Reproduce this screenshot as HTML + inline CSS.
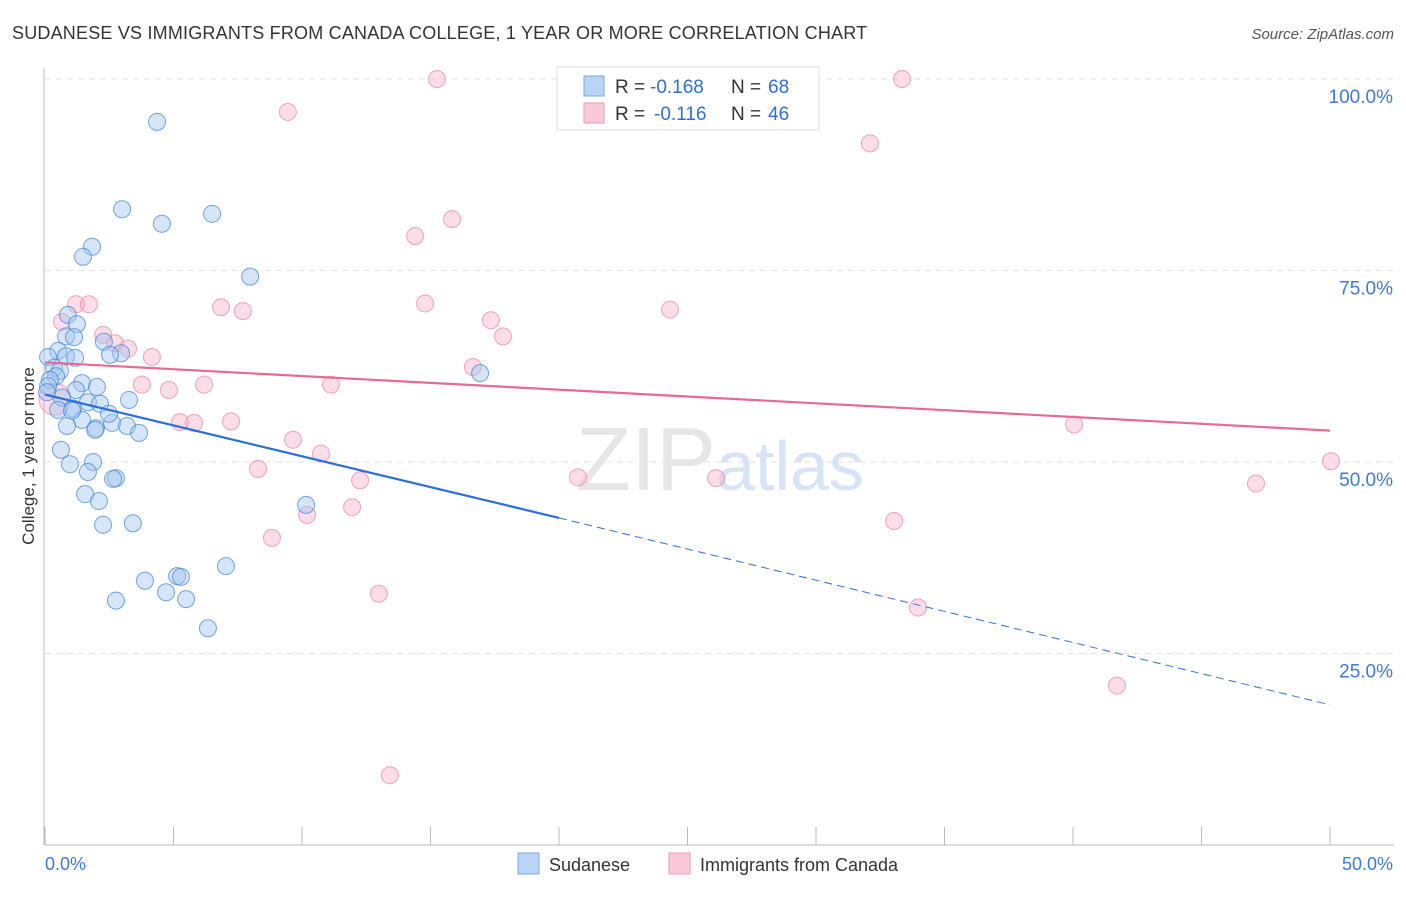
<!DOCTYPE html>
<html><head><meta charset="utf-8"><style>
body{margin:0;background:#fff;font-family:"Liberation Sans",sans-serif}
text{font-family:"Liberation Sans",sans-serif}
</style></head><body>
<svg width="1406" height="892">
<text x="12" y="39" font-size="18" letter-spacing="0.2" fill="#333">SUDANESE VS IMMIGRANTS FROM CANADA COLLEGE, 1 YEAR OR MORE CORRELATION CHART</text>
<text x="1394" y="39" font-size="15" fill="#555" font-style="italic" text-anchor="end">Source: ZipAtlas.com</text>
<g id="grid"></g>
<text x="720" y="490" font-size="90" fill="#e6e6e6" text-anchor="middle" font-family="Liberation Serif">ZIP<tspan fill="#d6e4f5" font-family="Liberation Sans" font-size="70">atlas</tspan></text>
<g id="marks"></g>
<text transform="translate(34,456) rotate(-90)" font-size="17" fill="#333" text-anchor="middle">College, 1 year or more</text>
<g>
<rect x="557" y="67" width="262" height="63" fill="#fff" stroke="#ddd"/>
<rect x="584" y="76" width="20" height="20" fill="#b9d4f5" stroke="#7aa8e6"/>
<rect x="584" y="103" width="20" height="20" fill="#f9c9d8" stroke="#ee9ab5"/>
<text x="615" y="93" font-size="19" fill="#333">R =</text>
<text x="650" y="93" font-size="19" fill="#2f6fd6">-0.168</text>
<text x="731" y="93" font-size="19" fill="#333">N =</text>
<text x="768" y="93" font-size="19" fill="#2f6fd6">68</text>
<text x="615" y="120" font-size="19" fill="#333">R =</text>
<text x="654" y="120" font-size="19" fill="#2f6fd6">-0.116</text>
<text x="731" y="120" font-size="19" fill="#333">N =</text>
<text x="768" y="120" font-size="19" fill="#2f6fd6">46</text>
</g>
<g>
<rect x="518" y="853" width="21" height="21" fill="#b9d4f5" stroke="#7aa8e6"/>
<text x="549" y="871" font-size="18" fill="#333">Sudanese</text>
<rect x="669" y="853" width="21" height="21" fill="#f9c9d8" stroke="#ee9ab5"/>
<text x="700" y="871" font-size="18" fill="#333">Immigrants from Canada</text>
</g>
</svg>
<script>
const yTicks=[100,75,50,25];
const xTickLabels=["0.0%","50.0%"];
const blueX=[4.36,3,4.55,6.5,1.83,1.48,7.98,0.89,1.24,0.82,1.13,2.29,2.96,2.53,0.51,0.82,1.17,0.12,0.35,0.58,0.43,0.19,0.12,1.44,2.02,1.21,0.66,1.67,1.09,2.14,3.27,1.44,0.86,2.61,1.98,1.95,3.19,3.66,0.62,1.87,0.97,1.67,2.76,2.65,1.56,2.1,3.42,2.26,10.16,16.93,7.04,5.14,5.29,3.89,4.71,5.49,2.76,6.34,0.08,0.51,1.05,2.49];
const blueY=[94.4,83.0,81.1,82.4,78.1,76.8,74.2,69.2,68.0,66.4,66.3,65.7,64.2,64.0,64.5,63.8,63.6,63.7,62.3,61.9,61.2,60.7,59.9,60.3,59.8,59.4,58.4,57.8,57.0,57.6,58.1,55.5,54.7,55.1,54.4,54.2,54.7,53.8,51.6,50.0,49.7,48.7,47.9,47.8,45.8,44.9,42.0,41.8,44.4,61.6,36.4,35.1,35.0,34.5,33.0,32.1,31.9,28.3,59.1,56.8,56.7,56.3];
const pinkX=[15.25,33.35,9.45,32.1,15.84,14.4,1.21,1.71,6.85,7.7,14.79,24.32,17.35,17.82,0.66,2.26,2.72,3.23,4.16,16.65,3.77,4.82,6.19,11.13,5.25,5.8,7.24,40.04,9.65,10.74,8.29,20.74,26.11,50.04,47.12,12.26,11.95,10.2,33.04,8.83,12.99,33.97,41.71,13.42,0.39];
const pinkY=[100,100,95.7,91.6,81.7,79.5,70.6,70.6,70.2,69.7,70.7,69.9,68.5,66.4,68.3,66.6,65.5,64.8,63.7,62.4,60.1,59.4,60.1,60.1,55.2,55.1,55.3,54.9,52.9,51.1,49.1,48.0,47.9,50.1,47.2,47.6,44.1,43.1,42.3,40.1,32.8,31.0,20.8,9.1,58.2];
const blueTrend=[[0,58.8],[20,42.7],[50,18.3]];
const pinkTrend=[[0,63.0],[50,54.1]];
const X=v=>45+v*25.7, Y=v=>845-v*7.66;
const NS="http://www.w3.org/2000/svg";
const grid=document.getElementById('grid'), marks=document.getElementById('marks');
function mk(tag,attrs,parent){const e=document.createElementNS(NS,tag);for(const k in attrs)e.setAttribute(k,attrs[k]);parent.appendChild(e);return e;}
yTicks.forEach(t=>{
  const l=mk('line',{x1:45,x2:1394,y1:Y(t),y2:Y(t),stroke:'#e2e2e2','stroke-dasharray':'6,5'},grid);
  
  
  const tx=mk('text',{x:1393,y:Y(t)+24,'font-size':19,fill:'#3d7bd9','text-anchor':'end'},grid);
  tx.textContent=t.toFixed(1)+'%';
  
  
});
const ax=mk('line',{x1:45,x2:1394,y1:845,y2:845,stroke:'#bbb'},grid);


const ay=mk('line',{x1:44,x2:44,y1:68,y2:845,stroke:'#bbb'},grid);


for(let i=0;i<=10;i++){
  const l=mk('line',{x1:X(i*5),x2:X(i*5),y1:827,y2:845,stroke:'#bbb'},grid);
  
  
}
xTickLabels.forEach((s,i)=>{
  const t=mk('text',{x:i?1393:45,y:870,'font-size':18,fill:'#3d7bd9','text-anchor':i?'end':'start'},grid);
  t.textContent=s;
  
  
});
pinkX.forEach((v,i)=>{
  const c=mk('circle',{cx:X(v),cy:Y(pinkY[i]),r:i==pinkX.length-1?16:8.5,fill:'rgba(246,180,201,0.45)',stroke:'rgba(232,130,165,0.7)','stroke-width':1},marks);
  
  
});
blueX.forEach((v,i)=>{
  const c=mk('circle',{cx:X(v),cy:Y(blueY[i]),r:8.5,fill:'rgba(165,198,240,0.45)',stroke:'rgba(60,130,220,0.7)','stroke-width':1},marks);
  
  
});
const b1=mk('line',{x1:X(blueTrend[0][0]),y1:Y(blueTrend[0][1]),x2:X(blueTrend[1][0]),y2:Y(blueTrend[1][1]),stroke:'#2a6fdb','stroke-width':2.2},marks);


const b2=mk('line',{x1:X(blueTrend[1][0]),y1:Y(blueTrend[1][1]),x2:X(blueTrend[2][0]),y2:Y(blueTrend[2][1]),stroke:'#2a6fdb','stroke-width':1,'stroke-dasharray':'8,5'},marks);


const p1=mk('line',{x1:X(pinkTrend[0][0]),y1:Y(pinkTrend[0][1]),x2:X(pinkTrend[1][0]),y2:Y(pinkTrend[1][1]),stroke:'#e66a93','stroke-width':2.2},marks);


</script>
</body></html>
